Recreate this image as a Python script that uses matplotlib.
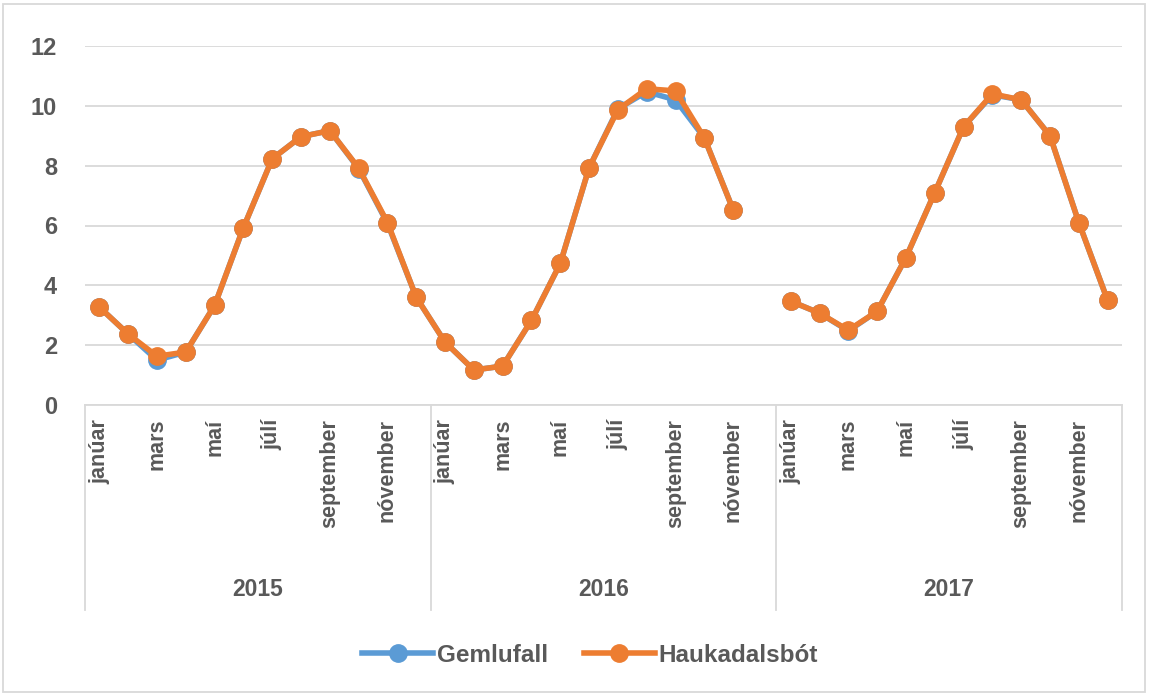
import numpy as np
import matplotlib
matplotlib.use("Agg")
import matplotlib.pyplot as plt
from matplotlib.patches import Rectangle
from matplotlib.lines import Line2D

# Mánaðarhiti 2015-2017 (desember 2016 vantar)
months = ["janúar", "febrúar", "mars", "apríl", "maí", "júní",
          "júlí", "ágúst", "september", "október", "nóvember", "desember"]
years = ["2015", "2016", "2017"]

gemlufall = [3.27, 2.37, 1.50, 1.77, 3.33, 5.93, 8.23, 8.97, 9.17, 7.90, 6.07, 3.60,
             2.10, 1.17, 1.30, 2.83, 4.73, 7.93, 9.90, 10.47, 10.20, 8.93, 6.53, np.nan,
             3.47, 3.07, 2.48, 3.13, 4.93, 7.10, 9.30, 10.37, 10.20, 9.00, 6.10, 3.50]
haukadalsbot = [3.27, 2.37, 1.63, 1.77, 3.33, 5.93, 8.23, 8.97, 9.17, 7.92, 6.10, 3.60,
                2.10, 1.17, 1.30, 2.83, 4.73, 7.93, 9.87, 10.57, 10.50, 8.93, 6.53, np.nan,
                3.47, 3.07, 2.50, 3.13, 4.93, 7.10, 9.30, 10.40, 10.20, 9.00, 6.10, 3.50]

blue = '#5B9BD5'
orange = '#ED7D31'
grey_txt = '#595959'
grid_c = '#D9D9D9'
plt.rcParams['font.family'] = ['Liberation Sans']
plt.rcParams['font.weight'] = 'bold'

fig = plt.figure(figsize=(11.49, 6.95), dpi=100)
ax = fig.add_axes([85/1149, 1-405/695, (1122-85)/1149, (405-46)/695])

x = np.arange(len(gemlufall))
ax.plot(x, gemlufall, '-o', color=blue, lw=4, ms=12.5, label='Gemlufall')
ax.plot(x, haukadalsbot, '-o', color=orange, lw=4, ms=12.5, label='Haukadalsbót')

ax.set_xlim(-0.5, 35.5)
ax.set_ylim(0, 12)
ax.set_yticks(range(0, 13, 2))
ax.yaxis.grid(True, color=grid_c, lw=1.3)
ax.set_axisbelow(True)
for s in ['top', 'right', 'left']:
    ax.spines[s].set_visible(False)
ax.spines['bottom'].set_color(grid_c)
ax.spines['bottom'].set_linewidth(1.3)
ax.tick_params(axis='y', length=0, pad=20, labelsize=17, labelcolor=grey_txt)

tick_pos = [i for i in range(36) if i % 2 == 0]
ax.set_xticks(tick_pos)
ax.set_xticklabels([months[i % 12] for i in tick_pos], rotation=90, va='top',
                   fontsize=15.5, color=grey_txt)
ax.tick_params(axis='x', length=0, pad=10)

# ársskil og ártöl
for b in [-0.5, 11.5, 23.5, 35.5]:
    ax.add_line(Line2D([b, b], [0, -0.571], transform=ax.get_xaxis_transform(),
                       color=grid_c, lw=1.3, clip_on=False))
for i, yr in enumerate(years):
    ax.text(i * 12 + 5.5, -0.515, yr, transform=ax.get_xaxis_transform(),
            ha='center', va='center', fontsize=16.5, color=grey_txt)

leg = fig.legend(loc='center', bbox_to_anchor=(590/1149, 1-655/695), ncol=2,
                 frameon=False, fontsize=17.5, handlelength=2.9, columnspacing=1.5,
                 handletextpad=0.15)
for t in leg.get_texts():
    t.set_color(grey_txt)

fig.patches.append(Rectangle((3/1149, 3/695), 1-7/1149, 1-7/695, transform=fig.transFigure,
                             fill=False, edgecolor=grid_c, lw=1.3))

fig.savefig('out.png', dpi=100, facecolor='white')
